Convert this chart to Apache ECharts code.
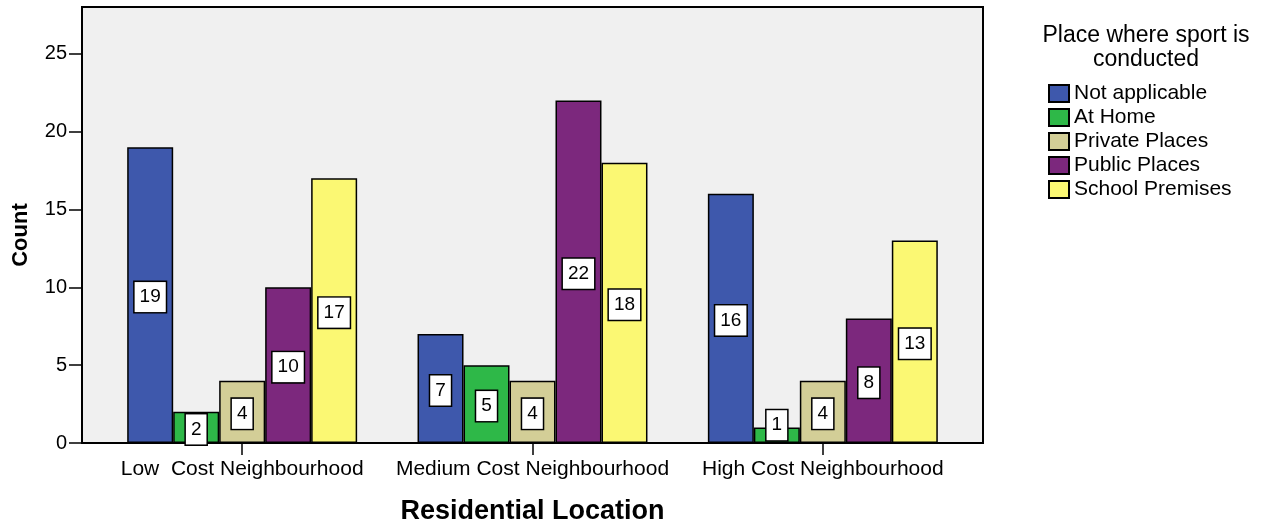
<!DOCTYPE html>
<html>
<head>
<meta charset="utf-8">
<title>Place where sport is conducted by residential location</title>
<script src="https://cdn.jsdelivr.net/npm/echarts@6/dist/echarts.min.js"></script>
<style>
  html, body { margin: 0; padding: 0; background: #ffffff; }
  #chart { width: 1272px; height: 525px; }
</style>
</head>
<body>
<div id="chart"></div>
<script>
// Residential location groups (x axis)
const categories = ['Low  Cost Neighbourhood', 'Medium Cost Neighbourhood', 'High Cost Neighbourhood'];

// Counts per place where sport is conducted
const notApplicable = [19, 7, 16];
const atHome = [2, 5, 1];
const privatePlaces = [4, 4, 4];
const publicPlaces = [10, 22, 8];
const schoolPremises = [17, 18, 13];

const seriesNames = ['Not applicable', 'At Home', 'Private Places', 'Public Places', 'School Premises'];
const seriesValues = [notApplicable, atHome, privatePlaces, publicPlaces, schoolPremises];
const seriesColors = ['#3e58ac', '#2eb848', '#d3ce97', '#7c287d', '#fbf873'];

// Count axis
const yTicks = [0, 5, 10, 15, 20, 25];
const yMax = 28;

const FONT = '"Liberation Sans", Arial, sans-serif';

const chart = echarts.init(document.getElementById('chart'), null, { renderer: 'canvas' });

// Very short bars get their value box nudged up so it stays readable
function toData(values) {
  return values.map(v => v < 2 ? { value: v, label: { offset: [0, -10] } } : v);
}

const series = seriesNames.map((name, i) => ({
  name: name,
  type: 'bar',
  xAxisIndex: 1,
  yAxisIndex: 1,
  barGap: 0,
  barCategoryGap: '20.8%',
  data: toData(seriesValues[i]),
  itemStyle: { color: seriesColors[i], borderColor: '#000', borderWidth: 1.5 },
  label: {
    show: true,
    position: 'inside',
    color: '#000',
    fontFamily: FONT,
    fontSize: 19,
    backgroundColor: '#fff',
    borderColor: '#000',
    borderWidth: 1.5,
    padding: [6, 5, 5, 5],
    offset: [0, 2]
  },
  emphasis: { disabled: true }
}));

chart.setOption({
  animation: false,
  backgroundColor: '#ffffff',
  textStyle: { fontFamily: FONT },
  title: {
    text: 'Place where sport is\nconducted',
    left: 1141,
    top: 19,
    textAlign: 'center',
    textStyle: { fontFamily: FONT, fontSize: 23, fontWeight: 'normal', color: '#000', lineHeight: 24 }
  },
  legend: {
    orient: 'vertical',
    left: 1048,
    top: 83,
    padding: 0,
    itemWidth: 20,
    itemHeight: 17,
    itemGap: 3,
    icon: 'rect',
    selectedMode: false,
    textStyle: { fontFamily: FONT, fontSize: 21, color: '#000' },
    data: seriesNames
  },
  grid: [
    // framed plot background
    { left: 82, top: 7, width: 901, height: 436, outerBoundsMode: 'none', containLabel: false,
      show: true, backgroundColor: '#f0f0f0', borderColor: '#000', borderWidth: 2 },
    // bar area, inset from the frame
    { left: 97, top: 7, width: 871, height: 436, outerBoundsMode: 'none', containLabel: false }
  ],
  xAxis: [
    { type: 'value', gridIndex: 0, show: false, min: 0, max: 1 },
    {
      type: 'category',
      gridIndex: 1,
      data: categories,
      name: 'Residential Location',
      nameLocation: 'middle',
      nameGap: 55,
      nameTextStyle: { fontFamily: FONT, fontSize: 27, fontWeight: 'bold', color: '#000' },
      axisLine: { show: false },
      axisTick: { show: true, alignWithLabel: true, length: 12, lineStyle: { color: '#000', width: 1.5 } },
      axisLabel: { color: '#000', fontFamily: FONT, fontSize: 21, margin: 16, interval: 0 },
      splitLine: { show: false }
    }
  ],
  yAxis: [
    {
      type: 'value',
      gridIndex: 0,
      min: 0,
      max: yMax,
      name: 'Count',
      nameLocation: 'middle',
      nameGap: 50,
      nameRotate: 90,
      nameTextStyle: { fontFamily: FONT, fontSize: 22, fontWeight: 'bold', color: '#000', padding: [0, 20, 0, 0] },
      axisLine: { show: true, lineStyle: { color: '#000', width: 2 } },
      axisTick: { show: true, length: 13, customValues: yTicks, lineStyle: { color: '#000', width: 1.5 } },
      axisLabel: { color: '#000', fontFamily: FONT, fontSize: 20, margin: 15, customValues: yTicks },
      splitLine: { show: false }
    },
    { type: 'value', gridIndex: 1, min: 0, max: yMax, show: false, splitLine: { show: false } }
  ],
  series: series
});
</script>
</body>
</html>
